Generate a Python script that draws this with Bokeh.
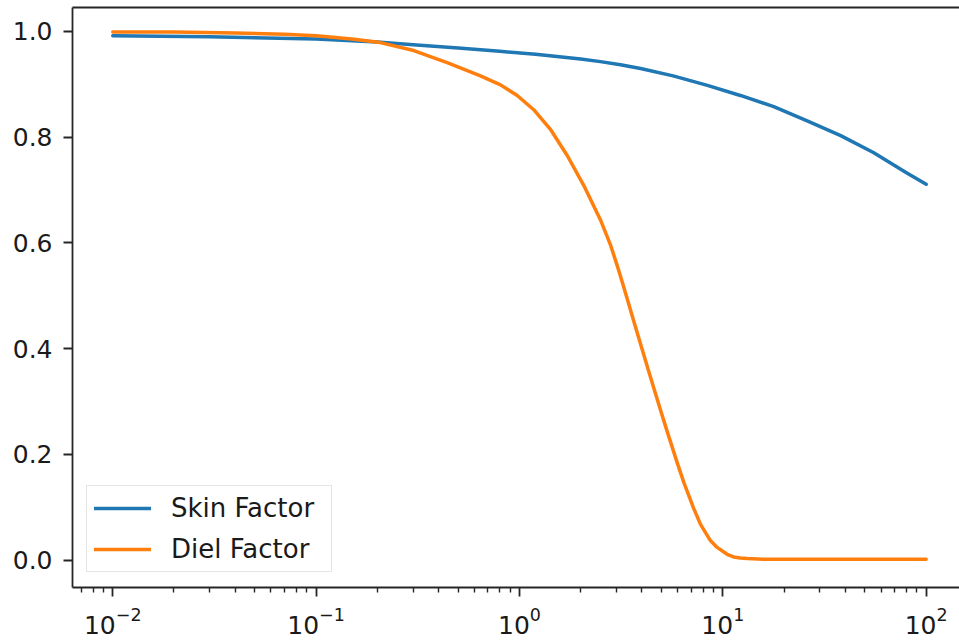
from bokeh.plotting import figure
from bokeh.models import (Range1d, FixedTicker, NumeralTickFormatter, LinearAxis,
                          Legend, LegendItem)
from bokeh.embed import file_html
from bokeh.resources import INLINE

# ---- data ----
skin_x = [0.01, 0.03, 0.1, 0.2, 0.3, 0.5, 0.8, 1.2, 2.0, 2.5, 3.14, 3.94, 5.7, 8.4,
          12.2, 17.8, 26, 38, 55, 80, 100]
skin_y = [0.992, 0.990, 0.986, 0.980, 0.975, 0.969, 0.9625, 0.957, 0.948, 0.943,
          0.937, 0.930, 0.916, 0.898, 0.879, 0.858, 0.831, 0.803, 0.771, 0.733, 0.711]

diel_x = [0.01, 0.02, 0.04, 0.07, 0.1, 0.15, 0.207, 0.302, 0.441, 0.643, 0.807,
          0.975, 1.175, 1.42, 1.72, 2.07, 2.50, 2.80, 3.02, 3.14, 3.39, 3.65,
          3.94, 4.41, 4.93, 5.32, 5.97, 6.43, 7.19, 7.76, 8.69, 9.38, 10.5, 11.3,
          12.2, 13.2, 15.8, 30, 100]
diel_y = [0.999, 0.999, 0.997, 0.995, 0.992, 0.986, 0.979, 0.964, 0.941, 0.916,
          0.899, 0.879, 0.852, 0.815, 0.765, 0.709, 0.644, 0.597, 0.558, 0.537,
          0.494, 0.452, 0.409, 0.346, 0.285, 0.244, 0.184, 0.147, 0.098, 0.068,
          0.037, 0.024, 0.011, 0.006, 0.004, 0.003, 0.0018, 0.0015, 0.0015]

series_names = ["Skin Factor", "Diel Factor"]
series_colors = ["#1f77b4", "#ff7f0e"]

x_ticks = [0.01, 0.1, 1, 10, 100]
x_tick_keys = ["0.01", "0.1", "1", "10", "100"]
x_tick_labels = ["10\u207b\u00b2", "10\u207b\u00b9", "10\u2070", "10\u00b9", "10\u00b2"]
y_ticks = [0.0, 0.2, 0.4, 0.6, 0.8, 1.0]

FONT = "DejaVu Sans"
TXT = "#1a1a1a"
AX = "#262626"

p = figure(width=959, height=641, x_axis_type="log",
           x_range=Range1d(10 ** -2.198, 10 ** 2.164),
           y_range=Range1d(-0.0518, 1.0454),
           output_backend="svg", toolbar_location=None,
           min_border_left=72, min_border_right=0,
           min_border_top=7, min_border_bottom=54)
p.outline_line_color = None
p.xgrid.visible = False
p.ygrid.visible = False
p.background_fill_color = "white"
p.border_fill_color = "white"

minor = [m * 10 ** e for e in range(-3, 3) for m in range(2, 10)]
xa = p.xaxis[0]
xa.ticker = FixedTicker(ticks=x_ticks, minor_ticks=minor)
xa.major_label_overrides = dict(zip(x_tick_keys, x_tick_labels))
ya = p.yaxis[0]
ya.ticker = FixedTicker(ticks=y_ticks, minor_ticks=[])
ya.formatter = NumeralTickFormatter(format="0.0")

for ax in (xa, ya):
    ax.axis_line_color = AX
    ax.axis_line_width = 1.8
    ax.major_tick_line_color = AX
    ax.major_tick_line_width = 1.8
    ax.minor_tick_line_color = AX
    ax.minor_tick_line_width = 1.4
    ax.major_tick_in = 0
    ax.minor_tick_in = 0
    ax.major_label_text_font = FONT
    ax.major_label_text_font_size = "25px"
    ax.major_label_text_color = TXT
xa.major_tick_out = 9
xa.minor_tick_out = 5
ya.major_tick_out = 9
xa.major_label_standoff = 10
ya.major_label_standoff = 11

top = LinearAxis(ticker=FixedTicker(ticks=[]), axis_line_color=AX, axis_line_width=1.8,
                 major_tick_out=0, minor_tick_out=0, major_tick_in=0, minor_tick_in=0,
                 major_label_text_font_size="0px", major_label_standoff=0)
p.add_layout(top, "above")

r1 = p.line(skin_x, skin_y, line_color=series_colors[0], line_width=3.5,
            line_join="round", line_cap="round")
r2 = p.line(diel_x, diel_y, line_color=series_colors[1], line_width=3.5,
            line_join="round", line_cap="round")

legend = Legend(items=[LegendItem(label=series_names[0], renderers=[r1]),
                       LegendItem(label=series_names[1], renderers=[r2])],
                location=(14, 15), margin=0, padding=7, spacing=11,
                glyph_width=57, glyph_height=30, label_height=30, label_width=153,
                label_standoff=20, label_text_font=FONT,
                label_text_font_size="26px", label_text_color=TXT,
                border_line_color="#cccccc", border_line_width=1.5,
                background_fill_alpha=0.8)
p.add_layout(legend, "center")

open("out.html", "w").write(file_html(p, INLINE))
